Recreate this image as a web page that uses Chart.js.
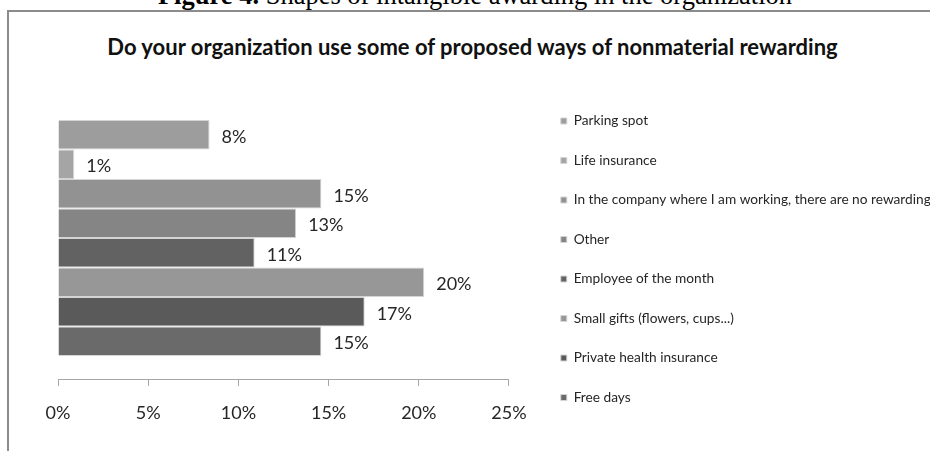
<!DOCTYPE html>
<html lang="en">
<head>
<meta charset="UTF-8">
<title>Nonmaterial rewarding</title>
<script src="https://cdn.jsdelivr.net/npm/chart.js"></script>
<style>
    body {
        margin: 0;
        background: #fff;
        width: 930px;
        height: 451px;
        overflow: hidden;
        position: relative;
    }
    .caption {
        position: absolute;
        left: 20px;
        right: 0;
        top: -19px;
        text-align: center;
        font-family: 'Liberation Serif', serif;
        font-size: 26.5px;
        line-height: 28px;
        color: #000;
        white-space: nowrap;
    }
    .frame {
        position: absolute;
        left: 7px;
        top: 10px;
        width: 1000px;
        height: 500px;
        border-left: 2px solid #8c8c8c;
        border-top: 2px solid #8c8c8c;
    }
    .title {
        position: absolute;
        left: 15px;
        right: 0;
        top: 34.5px;
        text-align: center;
        font-family: Lato, sans-serif;
        font-weight: bold;
        font-size: 22px;
        line-height: 24px;
        color: #111;
        white-space: nowrap;
    }
    canvas {
        position: absolute;
        left: 0;
        top: 0;
    }
</style>
</head>
<body>

<div class="caption"><b>Figure 4.</b> Shapes of intangible awarding in the organization</div>
<div class="frame"></div>
<div class="title">Do your organization use some of proposed ways of nonmaterial rewarding</div>
<canvas id="rewardChart" width="930" height="451"></canvas>

<script>
    // answers, top bar first (same order as the legend)
    const categories = [
        'Parking spot',
        'Life insurance',
        'In the company where I am working, there are no rewarding',
        'Other',
        'Employee of the month',
        'Small gifts (flowers, cups...)',
        'Private health insurance',
        'Free days'
    ];
    const shares = [8.4, 0.9, 14.6, 13.2, 10.9, 20.3, 17.0, 14.6];
    const xTicks = [0, 5, 10, 15, 20, 25];

    const barColors = ['#9d9d9d', '#a5a5a5', '#929292', '#858585', '#626262', '#979797', '#5a5a5a', '#6a6a6a'];

    // legend sits right of the plot, push it so the boxes start near x=561
    const legendFont = { family: 'Lato', size: 13.7 };
    const legendPad = 25.8;
    const measureCtx = document.createElement('canvas').getContext('2d');
    measureCtx.font = legendFont.size + 'px ' + legendFont.family;
    const longest = Math.max(...categories.map(c => measureCtx.measureText(c).width));
    const rightPad = 930 - 535 - (legendPad + 6 + legendFont.size / 2 + longest + 10);

    // value labels at the end of each bar
    const barValueLabels = {
        id: 'barValueLabels',
        afterDatasetsDraw(chart) {
            const ctx = chart.ctx;
            ctx.save();
            ctx.font = '18px Lato';
            ctx.fillStyle = '#262626';
            ctx.textAlign = 'left';
            ctx.textBaseline = 'middle';
            chart.data.datasets.forEach((ds, i) => {
                const bar = chart.getDatasetMeta(i).data[0];
                ctx.fillText(Math.round(ds.data[0]) + '%', bar.x + 12, bar.y + 2);
            });
            ctx.restore();
        }
    };

    const ctx = document.getElementById('rewardChart').getContext('2d');
    new Chart(ctx, {
        type: 'bar',
        data: {
            labels: [''],
            datasets: categories.map((name, i) => ({
                label: name,
                data: [shares[i]],
                backgroundColor: barColors[i],
                borderColor: '#d4d4d4',
                borderWidth: 1,
                categoryPercentage: 0.837,
                barPercentage: 1
            }))
        },
        options: {
            indexAxis: 'y',
            responsive: false,
            animation: false,
            layout: {
                padding: { left: 58, right: rightPad, top: 0, bottom: 0 }
            },
            plugins: {
                // empty title only reserves the space above the plot
                title: {
                    display: true,
                    text: '',
                    font: { size: 12 },
                    padding: { top: 0, bottom: 82.6 }
                },
                legend: {
                    position: 'right',
                    align: 'start',
                    maxWidth: 600,
                    title: {
                        display: true,
                        text: '',
                        font: { size: 12 },
                        padding: { top: 73.95, bottom: 0 }
                    },
                    labels: {
                        boxWidth: 6,
                        boxHeight: 6,
                        padding: legendPad,
                        color: '#262626',
                        font: legendFont
                    }
                },
                tooltip: { enabled: false }
            },
            scales: {
                x: {
                    min: 0,
                    max: 25,
                    afterBuildTicks: scale => {
                        scale.ticks = xTicks.map(v => ({ value: v }));
                    },
                    afterFit: scale => { scale.height = 72; },
                    ticks: {
                        padding: 16,
                        color: '#262626',
                        font: { family: 'Lato', size: 18 },
                        callback: v => v + '%'
                    },
                    grid: {
                        drawOnChartArea: false,
                        drawTicks: true,
                        tickLength: 7,
                        color: '#a6a6a6'
                    },
                    border: { color: '#a6a6a6' }
                },
                y: {
                    position: 'right',
                    grid: { display: false },
                    border: { display: false },
                    ticks: { display: false },
                    afterFit: scale => { scale.width = 26; }
                }
            }
        },
        plugins: [barValueLabels]
    });
</script>

</body>
</html>
